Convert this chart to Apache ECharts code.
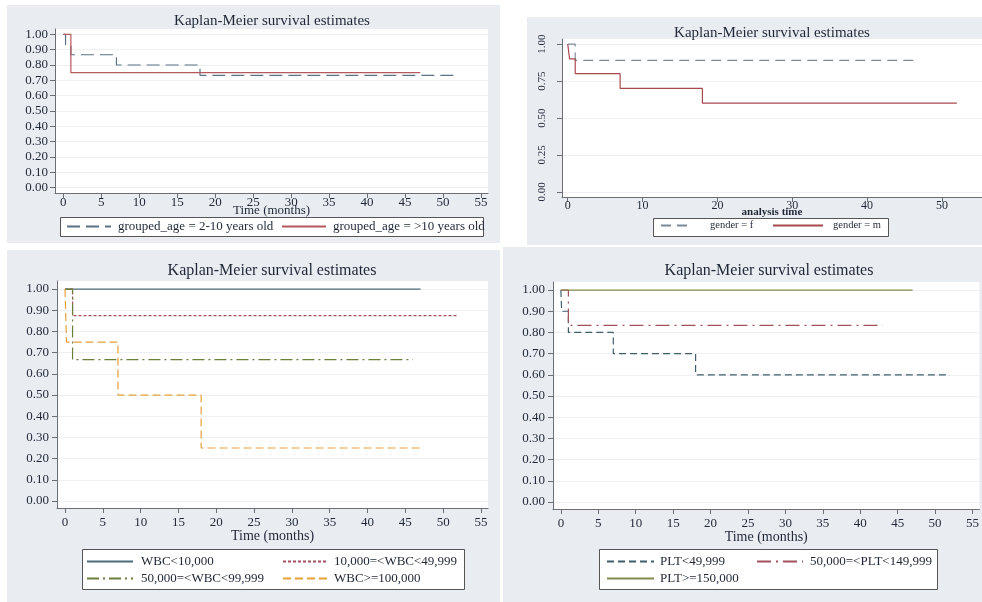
<!DOCTYPE html>
<html><head><meta charset="utf-8">
<script src="https://cdn.jsdelivr.net/npm/echarts@6/dist/echarts.min.js"></script>
<style>html,body{margin:0;padding:0;background:#fff}#c{width:982px;height:602px}</style>
</head><body><div id="c"></div>
<script>
// ---------- DATA ----------
const titleText = 'Kaplan-Meier survival estimates';
// Panel 1: grouped age
const ageNames = ['grouped_age = 2-10 years old', 'grouped_age = >10 years old'];
const age210Time = [0, 0.3, 1, 7, 18, 52];
const age210Surv = [1, 0.933, 0.867, 0.8, 0.733, 0.733];
const ageGt10Time = [0, 1, 47];
const ageGt10Surv = [1, 0.75, 0.75];
const ageYTicks = [0, 0.1, 0.2, 0.3, 0.4, 0.5, 0.6, 0.7, 0.8, 0.9, 1];
const ageXTicks = [0, 5, 10, 15, 20, 25, 30, 35, 40, 45, 50, 55];
// Panel 2: gender
const genderNames = ['gender = f', 'gender = m'];
const femaleTime = [0, 1, 46.5];
const femaleSurv = [1, 0.889, 0.889];
const maleTime = [0, 0.25, 1, 7, 18, 52];
const maleSurv = [1, 0.9, 0.8, 0.7, 0.6, 0.6];
const genderYTicks = [0, 0.25, 0.5, 0.75, 1];
const genderXTicks = [0, 10, 20, 30, 40, 50];
// Panel 3: WBC
const wbcNames = ['WBC<10,000', '10,000=<WBC<49,999', '50,000=<WBC<99,999', 'WBC>=100,000'];
const wbc1Time = [0, 47];
const wbc1Surv = [1, 1];
const wbc2Time = [0, 1, 52];
const wbc2Surv = [1, 0.875, 0.875];
const wbc3Time = [0, 1, 46];
const wbc3Surv = [1, 0.667, 0.667];
const wbc4Time = [0, 0.2, 7, 18, 47];
const wbc4Surv = [1, 0.75, 0.5, 0.25, 0.25];
// Panel 4: PLT
const pltNames = ['PLT<49,999', '50,000=<PLT<149,999', 'PLT>=150,000'];
const plt1Time = [0, 0.1, 1, 7, 18, 52];
const plt1Surv = [1, 0.9, 0.8, 0.7, 0.6, 0.6];
const plt2Time = [0, 1, 43];
const plt2Surv = [1, 0.833, 0.833];
const plt3Time = [0, 47];
const plt3Surv = [1, 1];
const tenthTicks = [0, 0.1, 0.2, 0.3, 0.4, 0.5, 0.6, 0.7, 0.8, 0.9, 1];
const fiveTicks = [0, 5, 10, 15, 20, 25, 30, 35, 40, 45, 50, 55];

// ---------- STYLE ----------
const FONT = '"Liberation Serif", "Times New Roman", serif';
const TXT = '#1f2736';
const AX = '#6b6f75';
const BG = '#e9edf2';
function zip(t, s) { return t.map((v, i) => [v, s[i]]); }

function xAxis(gi, min, max, ticks, name, fs, margin, nameGap, nameFs, bold) {
  return {
    type: 'value', gridIndex: gi, min: min, max: max,
    axisLine: { show: true, onZero: false, lineStyle: { color: AX, width: 1 } },
    axisTick: { show: true, length: 5, customValues: ticks, lineStyle: { color: AX } },
    axisLabel: { customValues: ticks, color: TXT, fontFamily: FONT, fontSize: fs, margin: margin },
    splitLine: { show: false },
    name: name, nameLocation: 'middle', nameGap: nameGap, nameMoveOverlap: false,
    nameTextStyle: { color: TXT, fontFamily: FONT, fontSize: nameFs, fontWeight: bold ? 'bold' : 'normal' }
  };
}
function yAxis(gi, min, max, ticks, fs, margin, rotate, dec) {
  return {
    type: 'value', gridIndex: gi, min: min, max: max,
    axisLine: { show: true, onZero: false, lineStyle: { color: AX, width: 1 } },
    axisTick: { show: true, length: 5, customValues: ticks, lineStyle: { color: AX } },
    axisLabel: { customValues: ticks, color: TXT, fontFamily: FONT, fontSize: fs, margin: margin,
      rotate: rotate, formatter: v => v.toFixed(dec) },
    splitLine: { show: true, lineStyle: { color: '#eef0f3', width: 1 } }
  };
}
function line(name, gi, data, color, dash) {
  return {
    name: name, type: 'line', xAxisIndex: gi, yAxisIndex: gi, data: data,
    step: 'end', symbol: 'none', showSymbol: false, silent: true, animation: false,
    lineStyle: { color: color, width: 1.2, type: dash },
    itemStyle: { color: color }
  };
}
function legend(names, left, top, iw, fs, pad, orient) {
  return {
    data: names, left: left, top: top, orient: orient || 'vertical',
    itemWidth: iw, itemHeight: 14, itemGap: 4, padding: 0, selectedMode: false,
    itemStyle: { opacity: 0 },
    textStyle: { color: TXT, fontFamily: FONT, fontSize: fs, padding: [0, 0, 0, pad] }
  };
}
function title(x, y, fs) {
  return { text: titleText, left: x, top: y, textAlign: 'center', padding: 0,
    textStyle: { color: TXT, fontFamily: FONT, fontSize: fs, fontWeight: 'normal' } };
}
function rect(x, y, w, h, fill, stroke, z) {
  return { type: 'rect', shape: { x: x, y: y, width: w, height: h }, z: z, silent: true,
    style: { fill: fill, stroke: stroke || null, lineWidth: stroke ? 1 : 0 } };
}

const option = {
  backgroundColor: '#ffffff',
  animation: false,
  graphic: { elements: [
    rect(7, 5, 493, 238, BG, null, -100),
    rect(527, 17, 455, 228, BG, null, -100),
    rect(7, 250, 493, 352, BG, null, -100),
    rect(503, 247, 479, 355, BG, null, -100),
    rect(60.5, 217.5, 423, 19, '#fff', '#555', -50),
    rect(653.5, 218.5, 235, 18, '#fff', '#555', -50),
    rect(82.5, 549.5, 382, 40, '#fff', '#555', -50),
    rect(599.5, 549.5, 338, 40, '#fff', '#555', -50)
  ] },
  title: [ title(272, 14, 15), title(772, 26, 15), title(272, 263, 16), title(769, 263, 16) ],
  grid: [
    { left: 55, top: 29, width: 433, height: 164, show: true, backgroundColor: '#fff', borderWidth: 0 },
    { left: 562, top: 39, width: 440, height: 158, show: true, backgroundColor: '#fff', borderWidth: 0 },
    { left: 57, top: 281, width: 431, height: 227, show: true, backgroundColor: '#fff', borderWidth: 0 },
    { left: 553, top: 282, width: 432, height: 227, show: true, backgroundColor: '#fff', borderWidth: 0 }
  ],
  xAxis: [
    xAxis(0, -1.09, 55.92, ageXTicks, 'Time (months)', 13, 3, 11, 13, false),
    xAxis(1, -0.765, 55.36, genderXTicks, 'analysis time', 12, 3, 10, 11, true),
    xAxis(2, -1.058, 55.925, fiveTicks, 'Time (months)', 13, 8, 21, 14, false),
    xAxis(3, -1.055, 55.925, fiveTicks, 'Time (months)', 13, 8, 21, 14, false)
  ],
  yAxis: [
    yAxis(0, -0.035, 1.035, ageYTicks, 13, 7, 0, 2),
    yAxis(1, -0.034, 1.034, genderYTicks, 11, 14, 90, 2),
    yAxis(2, -0.033, 1.038, tenthTicks, 13, 8, 0, 2),
    yAxis(3, -0.033, 1.038, tenthTicks, 13, 8, 0, 2)
  ],
  legend: [
    legend([ageNames[0]], 66, 220, 44, 13, 2, 'horizontal'),
    legend([ageNames[1]], 281, 220, 44, 13, 2, 'horizontal'),
    legend([genderNames[0]], 660, 220, 30, 10.5, 14, 'horizontal'),
    legend([genderNames[1]], 772, 220, 50, 10.5, 5, 'horizontal'),
    legend([wbcNames[0], wbcNames[2]], 86, 555, 46, 13, 3),
    legend([wbcNames[1], wbcNames[3]], 282, 555, 45, 13, 1),
    legend([pltNames[0], pltNames[2]], 606, 555, 47, 13, 1),
    legend([pltNames[1]], 756, 555, 46, 13, 2)
  ],
  series: [
    line(ageNames[0], 0, zip(age210Time, age210Surv), '#5a7283', [13, 6]),
    line(ageNames[1], 0, zip(ageGt10Time, ageGt10Surv), '#b5595c', 'solid'),
    line(genderNames[0], 1, zip(femaleTime, femaleSurv), '#7d8b96', [10, 6]),
    line(genderNames[1], 1, zip(maleTime, maleSurv), '#a9484d', 'solid'),
    line(wbcNames[0], 2, zip(wbc1Time, wbc1Surv), '#4d6a7a', 'solid'),
    line(wbcNames[1], 2, zip(wbc2Time, wbc2Surv), '#a2505f', [3, 2]),
    line(wbcNames[2], 2, zip(wbc3Time, wbc3Surv), '#6b7f3b', [12, 4, 2, 4]),
    line(wbcNames[3], 2, zip(wbc4Time, wbc4Surv), '#e6a03a', [8, 4]),
    line(pltNames[0], 3, zip(plt1Time, plt1Surv), '#3f5e6c', [7, 4]),
    line(pltNames[1], 3, zip(plt2Time, plt2Surv), '#a2505a', [14, 5, 2, 5]),
    line(pltNames[2], 3, zip(plt3Time, plt3Surv), '#85894a', 'solid')
  ]
};
const chart = echarts.init(document.getElementById('c'), null, { renderer: 'canvas' });
chart.setOption(option);
</script>
</body></html>
